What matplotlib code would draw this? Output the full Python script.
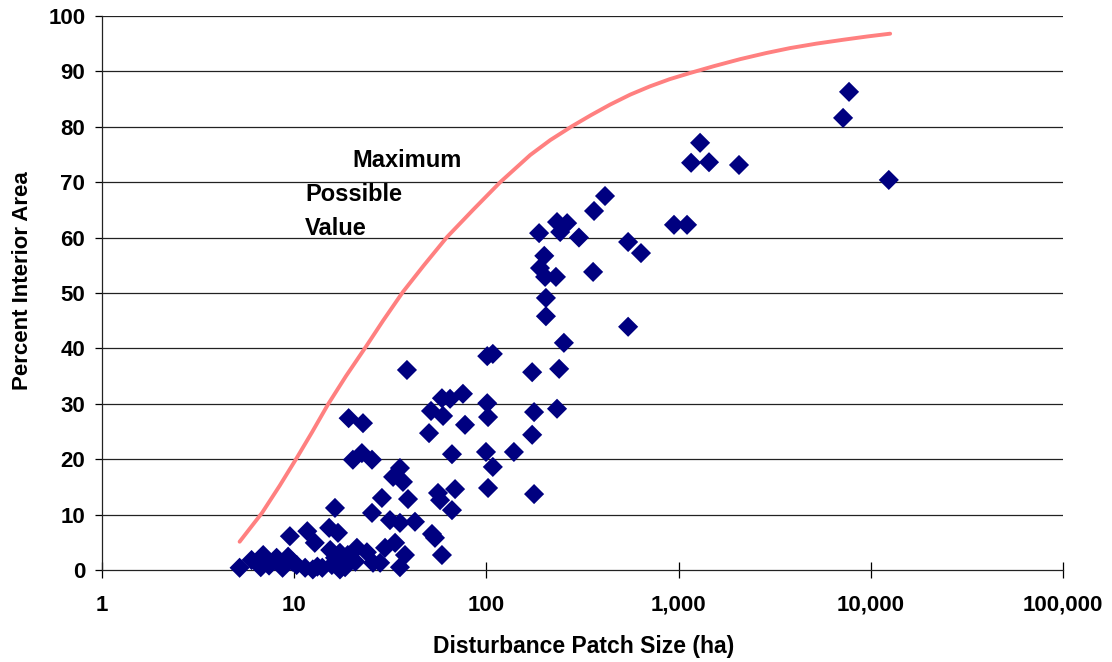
import matplotlib.pyplot as plt
from matplotlib.ticker import FixedLocator, NullLocator

plt.rcParams["font.family"] = ["Liberation Sans", "DejaVu Sans"]
plt.rcParams["font.weight"] = "bold"

# Disturbance patches: size (ha) and percent interior area
patch_size = [
    7700, 7170, 12400, 1293, 1161, 1439, 2061, 946, 1106,
    414, 363, 233, 263, 242, 188, 303, 546, 637, 200,
    190, 202, 230, 359, 204, 204, 546, 108, 101, 253,
    173, 239, 101, 102, 177, 233, 173, 99.5, 139, 108,
    102, 177,
    38.6, 58.7, 64.7, 75.5, 51.5, 59.5, 77.4, 50.3, 66.2,
    35.5, 32.7, 36.8, 68.7, 28.6, 39.1, 56.0, 57.4, 66.2,
    31.5, 35.5, 42.5, 52.1, 54.0, 29.7, 33.5, 37.7, 35.5,
    58.7,
    19.2, 22.8, 20.2, 22.5, 25.4, 16.3, 25.4, 9.5, 11.7,
    12.8, 15.2, 16.9, 21.2, 23.9, 25.7, 18.4, 15.4, 17.3,
    19.0,
    5.2, 6.0, 6.9, 6.7, 8.1, 9.3, 8.7, 10.3, 11.4,
    12.5, 14.0, 15.7, 16.3, 17.3, 18.6, 7.4, 9.8, 13.2,
    28.0, 20.8,
]
pct_interior = [
    86.3, 81.6, 70.4, 77.1, 73.5, 73.6, 73.1, 62.3, 62.3,
    67.5, 64.8, 62.8, 62.6, 61.0, 60.8, 60.0, 59.2, 57.2, 56.7,
    54.5, 52.9, 52.9, 53.8, 49.1, 45.8, 43.9, 39.0, 38.6, 41.0,
    35.7, 36.3, 30.1, 27.6, 28.5, 29.1, 24.4, 21.3, 21.3, 18.6,
    14.8, 13.7,
    36.1, 31.0, 30.9, 31.8, 28.7, 27.8, 26.2, 24.7, 20.9,
    18.4, 16.8, 15.9, 14.6, 13.0, 12.8, 13.9, 12.6, 10.8,
    9.0, 8.5, 8.7, 6.5, 5.8, 4.0, 4.9, 2.7, 0.5,
    2.7,
    27.4, 26.5, 19.9, 21.1, 19.9, 11.2, 10.3, 6.1, 7.0,
    4.9, 7.6, 6.7, 4.0, 3.2, 1.3, 0.5, 3.6, 3.1,
    2.7,
    0.4, 1.8, 2.7, 0.5, 2.2, 2.4, 0.4, 0.9, 0.4,
    0.1, 0.4, 0.9, 2.2, 0.1, 0.9, 0.8, 1.5, 0.6,
    1.3, 1.5,
]

# Upper bound on interior area for a given patch size
max_size = [5.2, 6.8, 8.4, 10.3, 12.4, 15.0, 18.6, 23.4, 29.0, 36.8, 47.3,
            62.4, 85.2, 118, 169, 215, 279, 350, 440, 560, 710, 900, 1146,
            1530, 2088, 2850, 3800, 5200, 7170, 9600, 12600]
max_pct = [5.1, 10.3, 15.2, 20.2, 24.9, 29.9, 35.0, 40.1, 45.0, 50.2, 55.0,
           60.1, 65.0, 70.0, 74.9, 77.6, 80.1, 82.1, 84.0, 85.8, 87.3, 88.6,
           89.7, 90.95, 92.2, 93.3, 94.2, 95.0, 95.7, 96.3, 96.8]

x_ticks = [1, 10, 100, 1000, 10000, 100000]
x_tick_labels = ["1", "10", "100", "1,000", "10,000", "100,000"]
y_ticks = list(range(0, 101, 10))

fig = plt.figure(figsize=(11.12, 6.62), dpi=100)
ax = fig.add_axes([0.0917, 0.139, 0.8643, 0.8369])

ax.set_xscale("log")
ax.set_xlim(1, 100000)
ax.set_ylim(0, 100)

for y in y_ticks[1:]:
    ax.axhline(y, color="#222222", lw=0.9, zorder=1)

ax.plot(max_size, max_pct, color="#ff8080", lw=2.8, zorder=2,
        solid_capstyle="round", solid_joinstyle="round")
ax.scatter(patch_size, pct_interior, marker="D", s=105, color="#000080",
           edgecolors="none", zorder=3, clip_on=False)

ax.text(20.0, 74.0, "Maximum", fontsize=17, fontweight="bold", va="center")
ax.text(11.4, 67.7, "Possible", fontsize=17, fontweight="bold", va="center")
ax.text(11.4, 61.7, "Value", fontsize=17, fontweight="bold", va="center")

ax.xaxis.set_major_locator(FixedLocator(x_ticks))
ax.xaxis.set_minor_locator(NullLocator())
ax.set_xticklabels(x_tick_labels)
ax.set_yticks(y_ticks)

ax.tick_params(axis="x", direction="inout", length=12, width=0.9, pad=12,
               labelsize=16)
ax.tick_params(axis="y", direction="out", length=5, width=0.9, pad=7,
               labelsize=16)

for side in ("top", "right"):
    ax.spines[side].set_visible(False)
for side in ("left", "bottom"):
    ax.spines[side].set_color("#222222")
    ax.spines[side].set_linewidth(0.9)

ax.set_xlabel("Disturbance Patch Size (ha)", fontsize=16.5, fontweight="bold")
ax.set_ylabel("Percent Interior Area", fontsize=16, fontweight="bold")
ax.xaxis.set_label_coords(0.501, -0.117)
ax.yaxis.set_label_coords(-0.072, 0.523)

fig.savefig("out.png", dpi=100)
